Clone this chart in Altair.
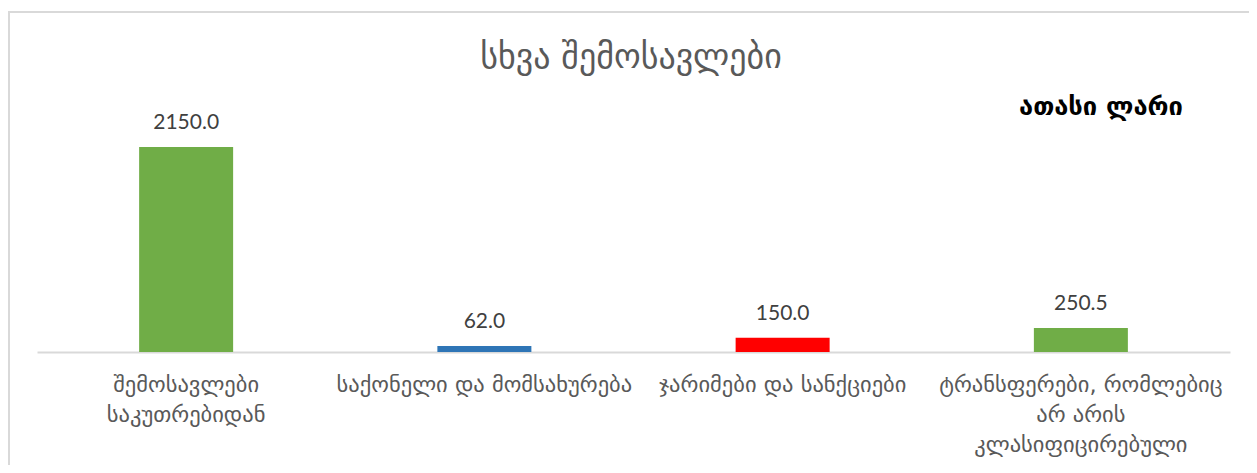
import altair as alt
import pandas as pd

title_text = "სხვა შემოსავლები"
unit_text = "ათასი ლარი"
categories = [
    "შემოსავლები\nსაკუთრებიდან",
    "საქონელი და მომსახურება",
    "ჯარიმები და სანქციები",
    "ტრანსფერები, რომლებიც\nარ არის\nკლასიფიცირებული",
]
values = [2150.0, 62.0, 150.0, 250.5]
colors = ["#70AD47", "#2E75B6", "#FF0000", "#70AD47"]

df = pd.DataFrame({"cat": categories, "val": values, "color": colors})
GEO = "DejaVu Sans"

x = alt.X(
    "cat:N",
    sort=categories,
    scale=alt.Scale(paddingInner=0, paddingOuter=0),
    axis=alt.Axis(
        title=None,
        labelAngle=0,
        labelExpr="split(datum.label, '\\n')",
        labelFont=GEO,
        labelFontSize=22.5,
        labelColor="#595959",
        labelLineHeight=30,
        labelPadding=21,
        labelBaseline="top",
        labelLimit=0,
        ticks=False,
        domainColor="#d9d9d9",
        domainWidth=2,
        grid=False,
    ),
)
y = alt.Y("val:Q", scale=alt.Scale(domain=[0, 2150], nice=False), axis=None)

base = alt.Chart(df)

frame = alt.Chart(pd.DataFrame({"a": [0]})).mark_rect(
    fill=None, stroke="#d9d9d9", strokeWidth=2
).encode(
    x=alt.value(-28), x2=alt.value(1400), y=alt.value(-135), y2=alt.value(500)
)

bars = base.mark_bar(size=94).encode(
    x=x, y=y, color=alt.Color("color:N", scale=None)
)

labels = base.mark_text(
    baseline="alphabetic", dy=-18, font="Lato", fontSize=21, color="#404040"
).encode(x=x, y=y, text=alt.Text("val:Q", format=".1f"))

title = alt.Chart(pd.DataFrame({"t": [title_text]})).mark_text(
    font=GEO, fontSize=34, color="#595959", align="center", baseline="middle",
).encode(text="t:N", x=alt.value(594), y=alt.value(-89))

unit = alt.Chart(pd.DataFrame({"t": [unit_text]})).mark_text(
    font=GEO, fontSize=25.5, fontWeight="bold", color="#000000", align="center",
    baseline="middle",
).encode(text="t:N", x=alt.value(1064), y=alt.value(-40))

chart = (
    alt.layer(frame, bars, labels, title, unit)
    .properties(
        width=1193,
        height=205,
        padding={"left": 29, "top": 139, "right": 19, "bottom": 113},
        autosize=alt.AutoSizeParams(type="none"),
    )
    .configure_view(stroke=None)
)

chart.save("out.html", embed_options={"renderer": "svg", "actions": False})
